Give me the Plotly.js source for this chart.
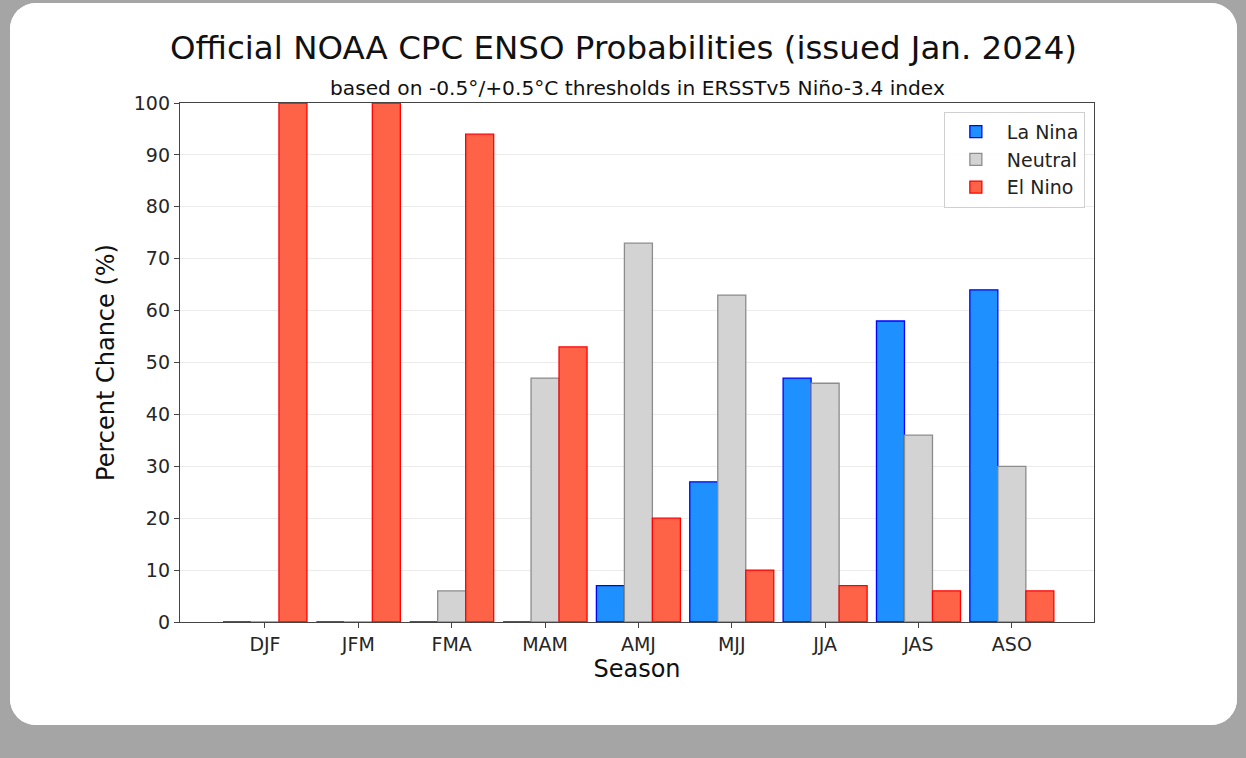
<!DOCTYPE html>
<html>
<head>
<meta charset="utf-8">
<script src="https://cdn.plot.ly/plotly-3.0.1.min.js"></script>
<style>
  html, body { margin: 0; padding: 0; background: #a5a5a5; width: 1246px; height: 758px; overflow: hidden; }
  #card { position: absolute; left: 10px; top: 3px; width: 1227px; height: 722px; background: #fff; border-radius: 26px; overflow: hidden; }
  #chart { width: 1227px; height: 722px; }
</style>
</head>
<body>
<div id="card"><div id="chart"></div></div>
<script>
const seasons = ["DJF", "JFM", "FMA", "MAM", "AMJ", "MJJ", "JJA", "JAS", "ASO"];
const laNina  = [0, 0, 0, 0, 7, 27, 47, 58, 64];
const neutral = [0, 0, 6, 47, 73, 63, 46, 36, 30];
const elNino  = [100, 100, 94, 53, 20, 10, 7, 6, 6];
const yTicks  = [0, 10, 20, 30, 40, 50, 60, 70, 80, 90, 100];

const FONT = "DejaVu Sans, sans-serif";
const axFont = {family: FONT, size: 19, color: "#262626"};

const traces = [
  {type: "bar", name: "La Nina", x: seasons, y: laNina,
   marker: {color: "#1e90ff", line: {color: "#0000ff", width: 1.3}}},
  {type: "bar", name: "Neutral", x: seasons, y: neutral,
   marker: {color: "#d3d3d3", line: {color: "#8c8c8c", width: 1.3}}},
  {type: "bar", name: "El Nino", x: seasons, y: elNino,
   marker: {color: "#ff6347", line: {color: "#ff0000", width: 1.3}}}
];

const layout = {
  width: 1227, height: 722,
  paper_bgcolor: "#ffffff", plot_bgcolor: "#ffffff",
  margin: {l: 170, r: 143, t: 100, b: 103},
  barmode: "group", bargap: 0.1, bargroupgap: 0,
  title: {
    text: "Official NOAA CPC ENSO Probabilities (issued Jan. 2024)",
    font: {family: FONT, size: 32.5, color: "#111"},
    x: 0.5, xref: "container", xanchor: "center",
    y: 1 - 45 / 722, yref: "container", yanchor: "middle"
  },
  annotations: [{
    text: "based on -0.5°/+0.5°C thresholds in ERSSTv5 Niño-3.4 index",
    xref: "paper", yref: "paper", x: 0.5, y: 1 + 15 / 519,
    xanchor: "center", yanchor: "middle", showarrow: false,
    font: {family: FONT, size: 20.2, color: "#111"}
  }],
  xaxis: {
    type: "category", range: [-0.91, 8.88],
    title: {text: "Season", font: {family: FONT, size: 24, color: "#111"}, standoff: 6},
    tickfont: axFont,
    showline: true, mirror: true, linecolor: "#444", linewidth: 1.2,
    ticks: "outside", ticklen: 5, tickcolor: "#444", showgrid: false, zeroline: false
  },
  yaxis: {
    range: [0, 100], tickvals: yTicks,
    title: {text: "Percent Chance (%)", font: {family: FONT, size: 24, color: "#111"}, standoff: 12},
    tickfont: axFont,
    showline: true, mirror: true, linecolor: "#444", linewidth: 1.2,
    ticks: "outside", ticklen: 5, tickcolor: "#444",
    showgrid: true, gridcolor: "#ebebeb", gridwidth: 1, zeroline: false
  },
  legend: {
    x: 0.99, y: 0.983, xanchor: "right", yanchor: "top",
    bgcolor: "rgba(255,255,255,0.9)", bordercolor: "#d0d0d0", borderwidth: 1,
    font: {family: FONT, size: 19, color: "#222"},
    itemwidth: 52, tracegroupgap: 4
  },
  showlegend: true
};

Plotly.newPlot("chart", traces, layout, {displayModeBar: false, staticPlot: true});
</script>
</body>
</html>
